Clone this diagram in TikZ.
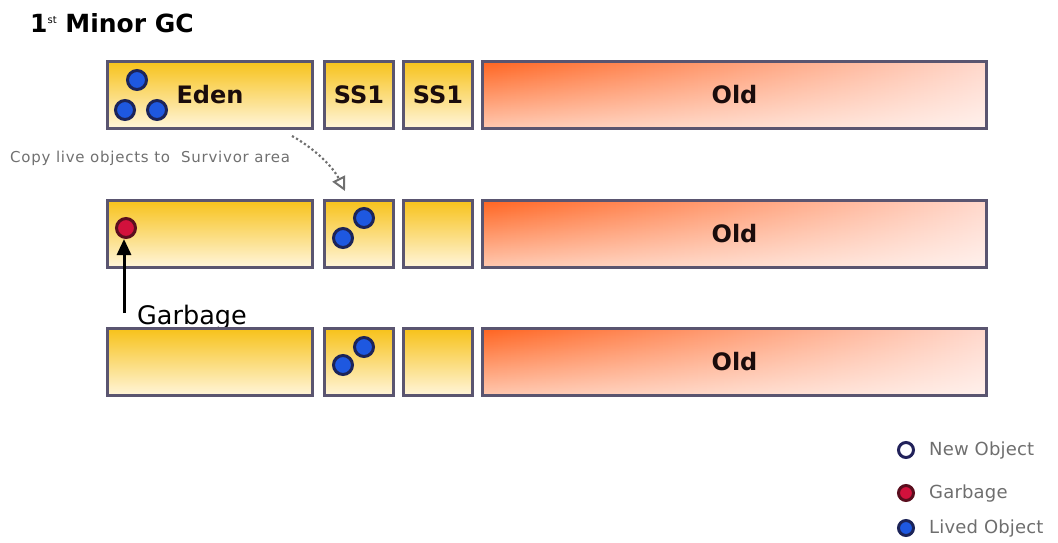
\documentclass[tikz,border=0pt]{standalone}
\usepackage{fontspec}
\setmainfont{DejaVu Sans}
\newfontfamily\notefont[LetterSpace=5]{DejaVu Sans}
\newfontfamily\legfont[LetterSpace=1]{DejaVu Sans}
\usetikzlibrary{arrows.meta,fadings}

\definecolor{boxline}{HTML}{5A5570}
\definecolor{goldtop}{HTML}{F7C21A}
\definecolor{goldbot}{HTML}{FFF5DA}
\definecolor{oldleft}{HTML}{FF6420}
\definecolor{oldright}{HTML}{FFD8CC}
\definecolor{dotblue}{HTML}{1E58E0}
\definecolor{dotring}{HTML}{1C2458}
\definecolor{garbred}{HTML}{D2113C}
\definecolor{garbring}{HTML}{5A0E1E}
\definecolor{notegray}{HTML}{707070}
\definecolor{leggray}{HTML}{6E6E6E}
\definecolor{labeltext}{HTML}{1A0C0C}
\definecolor{newring}{HTML}{22225A}

% white wash that grows towards the bottom of the tenured region
\tikzfading[name=paledown, top color=transparent!100, bottom color=transparent!35]

\tikzset{
  region/.style={draw=boxline, line width=3pt, inner sep=0pt, minimum height=67pt,
    font=\fontsize{24}{28}\selectfont\bfseries, text=labeltext},
  young/.style={region, top color=goldtop, bottom color=goldbot},
  tenured/.style={region, left color=oldleft, right color=oldright,
    path picture={\fill[white, path fading=paledown]
      (path picture bounding box.north west) rectangle (path picture bounding box.south east);}},
  eden/.style={young, minimum width=205pt},
  surv/.style={young, minimum width=69pt},
  oldgen/.style={tenured, minimum width=504pt},
  live/.style={circle, draw=dotring, fill=dotblue, line width=3pt, minimum size=19pt, inner sep=0pt},
  dead/.style={live, draw=garbring, fill=garbred},
  keydot/.style={circle, line width=3pt, minimum size=15pt, inner sep=0pt},
  keytext/.style={anchor=west, inner sep=0pt, font=\legfont\fontsize{18}{22}\selectfont, text=leggray}
}

\begin{document}
\begin{tikzpicture}[x=1pt, y=-1pt]
\useasboundingbox (0,0) rectangle (1058,542);

% title
\node[anchor=base west, inner sep=0pt, font=\fontsize{25}{30}\selectfont\bfseries] (title) at (30,32)
  {1\raisebox{9pt}{\fontsize{10}{12}\selectfont\mdseries st}\ Minor GC};

% heap before collection
\node[eden] (eden1) at (210,94.5) {Eden};
\node[surv] (sa1) at (359,94.5) {SS1};
\node[surv] (sb1) at (438,94.5) {SS1};
\node[oldgen] (old1) at (734.5,94.5) {Old};
\node[live] (e1a) at (137,80) {};
\node[live] (e1b) at (125,110) {};
\node[live] (e1c) at (157,110) {};

% copy step
\node[anchor=base west, inner sep=0pt, font=\notefont\fontsize{15}{18}\selectfont, text=notegray] (note) at (10,162)
  {Copy live objects to\ \ Survivor area};
\coordinate (cfrom) at (292,136);
\coordinate (cto) at (345,191);
\draw[notegray, line width=2.2pt, dash pattern=on 2.2pt off 2.5pt,
  -{Triangle[open, length=14pt, width=14pt, line width=2pt]}]
  (cfrom) .. controls (312,147) and (332,165) .. (cto);

% heap after copying
\node[eden] (eden2) at (210,233.5) {};
\node[surv] (sa2) at (359,233.5) {};
\node[surv] (sb2) at (438,233.5) {};
\node[oldgen] (old2) at (734.5,233.5) {Old};
\node[dead] (junk) at (126,228) {};
\node[live] (s2a) at (343,238) {};
\node[live] (s2b) at (364,218) {};

% garbage marker
\node[anchor=base west, inner sep=0pt, font=\fontsize{25.5}{30}\selectfont] (glabel) at (137,324) {Garbage};
\coordinate (gtail) at (124,313);
\draw[line width=3pt, -{Triangle[length=16pt, width=14pt]}] (gtail) -- (gtail |- junk.south);

% heap after clearing Eden
\node[eden] (eden3) at (210,362) {};
\node[surv] (sa3) at (359,362) {};
\node[surv] (sb3) at (438,362) {};
\node[oldgen] (old3) at (734.5,362) {Old};
\node[live] (s3a) at (343,365) {};
\node[live] (s3b) at (364,347) {};

% legend
\node[keydot, draw=newring, fill=white] (knew) at (906,450) {};
\node[keytext] (tnew) at (929,451) {New Object};
\node[keydot, draw=garbring, fill=garbred] (kdead) at (906,493) {};
\node[keytext] (tdead) at (929,494) {Garbage};
\node[keydot, draw=dotring, fill=dotblue] (klive) at (906,528) {};
\node[keytext] (tlive) at (929,529) {Lived Object};
\end{tikzpicture}
\end{document}
